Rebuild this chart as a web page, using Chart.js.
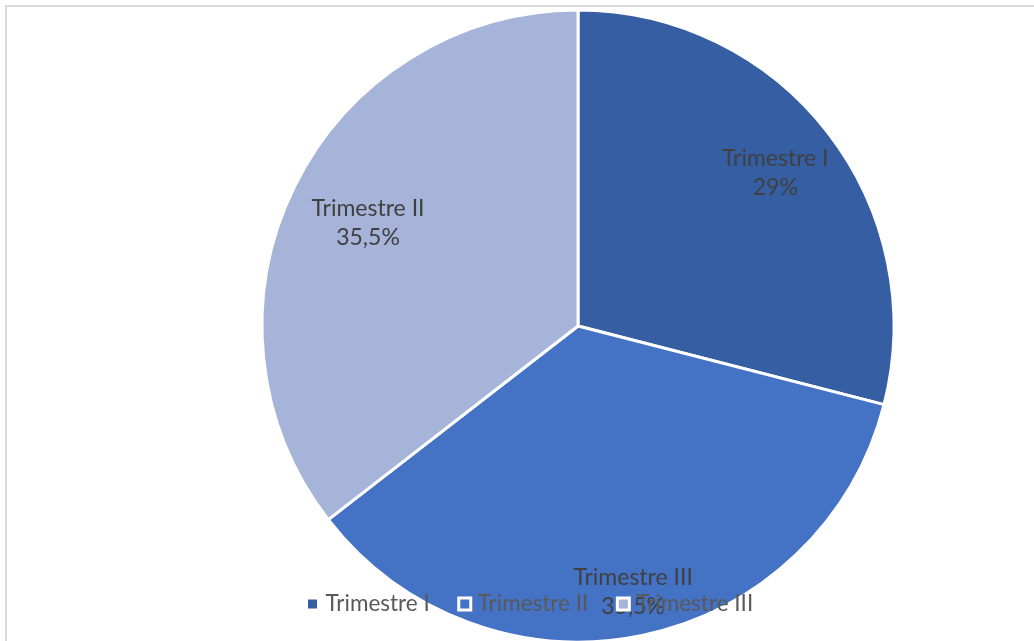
<!DOCTYPE html>
<html>
<head>
<meta charset="utf-8">
<script src="https://cdn.jsdelivr.net/npm/chart.js@4/dist/chart.umd.min.js"></script>
<style>
    html, body { margin: 0; padding: 0; background: #ffffff; overflow: hidden; }
    body { width: 1034px; height: 641px; position: relative; }
    #frame { position: absolute; left: 5px; top: 5px; width: 1100px; height: 700px;
             border-left: 2px solid #d9d9d9; border-top: 2px solid #d9d9d9; }
    #wrap { position: absolute; left: 0; top: 0; width: 1034px; height: 660px; }
</style>
</head>
<body>
<div id="frame"></div>
<div id="wrap"><canvas id="pieChart" width="1034" height="660"></canvas></div>
<script>
// chart data
var categories = ['Trimestre I', 'Trimestre II', 'Trimestre III'];
var values = [29, 35.5, 35.5];
var sliceLabels = ['Trimestre I', 'Trimestre III', 'Trimestre II']; // text written on each slice
var percentLabels = ['29%', '35,5%', '35,5%'];
var colors = ['#365ea2', '#4472c4', '#a7b4da'];

// how far out (fraction of radius) each slice label sits
var labelDist = [0.79, 0.86, 0.74];

var fontName = 'Lato, "Open Sans", sans-serif';

// labels inside the slices
var sliceLabelPlugin = {
    id: 'sliceLabels',
    afterDatasetsDraw: function(chart) {
        var ctx = chart.ctx;
        var meta = chart.getDatasetMeta(0);
        ctx.save();
        ctx.fillStyle = '#404040';
        ctx.font = '23px ' + fontName;
        ctx.textAlign = 'center';
        ctx.textBaseline = 'middle';
        meta.data.forEach(function(arc, i) {
            var p = arc.getProps(['x', 'y', 'startAngle', 'endAngle', 'outerRadius'], true);
            var mid = (p.startAngle + p.endAngle) / 2;
            var r = p.outerRadius * labelDist[i];
            var x = p.x + Math.cos(mid) * r;
            var y = p.y + Math.sin(mid) * r;
            ctx.fillText(sliceLabels[i], x, y - 14.5);
            ctx.fillText(percentLabels[i], x, y + 14.5);
        });
        ctx.restore();
    }
};

// legend drawn over the bottom of the pie
var legendPlugin = {
    id: 'overLegend',
    afterDraw: function(chart) {
        var ctx = chart.ctx;
        ctx.save();
        ctx.font = '22.5px ' + fontName;
        ctx.textBaseline = 'middle';
        var y = 604;
        var box = 12;
        var x = 306.5;
        categories.forEach(function(name, i) {
            ctx.fillStyle = colors[i];
            ctx.fillRect(x, y - box / 2, box, box);
            ctx.strokeStyle = '#ffffff';
            ctx.lineWidth = 3;
            ctx.strokeRect(x, y - box / 2, box, box);
            ctx.fillStyle = '#595959';
            ctx.textAlign = 'left';
            ctx.fillText(name, x + box + 7, y);
            x += box + 7 + ctx.measureText(name).width + 29;
        });
        ctx.restore();
    }
};

var ctx = document.getElementById('pieChart');
var pieChart = new Chart(ctx, {
    type: 'pie',
    data: {
        labels: categories,
        datasets: [{
            data: values,
            backgroundColor: colors,
            borderColor: '#ffffff',
            borderWidth: 3,
            hoverOffset: 0,
            offset: 0
        }]
    },
    options: {
        responsive: false,
        animation: false,
        layout: {
            padding: { left: 122, right: 0, top: 8.5, bottom: 16.5 }
        },
        plugins: {
            legend: { display: false },
            tooltip: { enabled: false }
        }
    },
    plugins: [sliceLabelPlugin, legendPlugin]
});
</script>
</body>
</html>
